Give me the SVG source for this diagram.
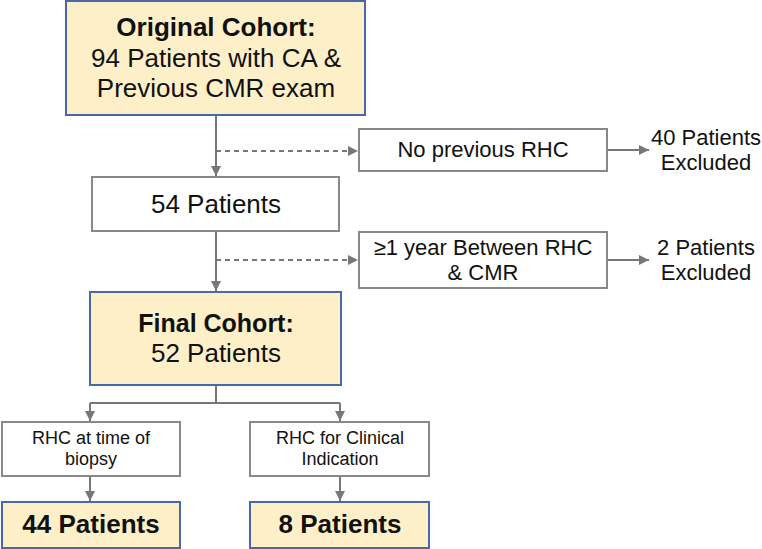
<svg xmlns="http://www.w3.org/2000/svg" width="762" height="549" viewBox="0 0 762 549">
<style>
.hl{fill:#fdf0c9;stroke:#4a68a8;stroke-width:2}
.pl{fill:#ffffff;stroke:#888888;stroke-width:2}
.t{font-family:"Liberation Sans",Arial,sans-serif;fill:#111;text-anchor:middle}
.b{font-weight:bold}
.c{fill:none;stroke:#777777;stroke-width:2}
.d{stroke-dasharray:5 4}
</style>
<defs>
<marker id="ah" viewBox="0 0 10 10" refX="10" refY="5" markerWidth="5" markerHeight="5" orient="auto" markerUnits="strokeWidth">
<path d="M0,0 L10,5 L0,10 z" fill="#777777"/>
</marker>
</defs>
<rect width="762" height="549" fill="#ffffff"/>
<g id="connectors">
<line class="c" x1="216" y1="115" x2="216" y2="176" marker-end="url(#ah)"/>
<line class="c d" x1="216" y1="151" x2="358" y2="151" marker-end="url(#ah)"/>
<line class="c" x1="607" y1="150" x2="649" y2="150" marker-end="url(#ah)"/>
<line class="c" x1="216" y1="231" x2="216" y2="291" marker-end="url(#ah)"/>
<line class="c d" x1="216" y1="260" x2="358" y2="260" marker-end="url(#ah)"/>
<line class="c" x1="607" y1="260" x2="649" y2="260" marker-end="url(#ah)"/>
<polyline class="c" points="216,385 216,403"/>
<polyline class="c" points="90,403 340,403"/>
<line class="c" x1="90" y1="403" x2="90" y2="421" marker-end="url(#ah)"/>
<line class="c" x1="340" y1="403" x2="340" y2="421" marker-end="url(#ah)"/>
<line class="c" x1="90" y1="477" x2="90" y2="501" marker-end="url(#ah)"/>
<line class="c" x1="340" y1="477" x2="340" y2="501" marker-end="url(#ah)"/>
</g>
<g id="original">
<rect class="hl" x="66" y="1" width="299" height="114"/>
<text class="t b" x="216" y="36" font-size="26">Original Cohort:</text>
<text class="t" x="216" y="67" font-size="26">94 Patients with CA &amp;</text>
<text class="t" x="216" y="97" font-size="26">Previous CMR exam</text>
</g>
<g id="no-rhc">
<rect class="pl" x="359" y="129" width="248" height="42"/>
<text class="t" x="483" y="157" font-size="22">No previous RHC</text>
</g>
<g id="excl40">
<text class="t" x="706" y="145" font-size="22">40 Patients</text>
<text class="t" x="706" y="170" font-size="22">Excluded</text>
</g>
<g id="p54">
<rect class="pl" x="92" y="177" width="247" height="54"/>
<text class="t" x="216" y="213" font-size="26">54 Patients</text>
</g>
<g id="year">
<rect class="pl" x="359" y="232" width="248" height="56"/>
<text class="t" x="483" y="255" font-size="22">≥1 year Between RHC</text>
<text class="t" x="483" y="280" font-size="22">&amp; CMR</text>
</g>
<g id="excl2">
<text class="t" x="706" y="255" font-size="22">2 Patients</text>
<text class="t" x="706" y="280" font-size="22">Excluded</text>
</g>
<g id="final">
<rect class="hl" x="90" y="292" width="251" height="93"/>
<text class="t b" x="216" y="332" font-size="25">Final Cohort:</text>
<text class="t" x="216" y="362" font-size="26">52 Patients</text>
</g>
<g id="biopsy">
<rect class="pl" x="2" y="422" width="178" height="54"/>
<text class="t" x="91" y="444" font-size="18">RHC at time of</text>
<text class="t" x="91" y="465" font-size="18">biopsy</text>
</g>
<g id="clinical">
<rect class="pl" x="250" y="422" width="179" height="54"/>
<text class="t" x="340" y="444" font-size="18">RHC for Clinical</text>
<text class="t" x="340" y="465" font-size="18">Indication</text>
</g>
<g id="p44">
<rect class="hl" x="2" y="502" width="178" height="46"/>
<text class="t b" x="91" y="533" font-size="26">44 Patients</text>
</g>
<g id="p8">
<rect class="hl" x="250" y="502" width="179" height="46"/>
<text class="t b" x="340" y="533" font-size="26">8 Patients</text>
</g>
</svg>
